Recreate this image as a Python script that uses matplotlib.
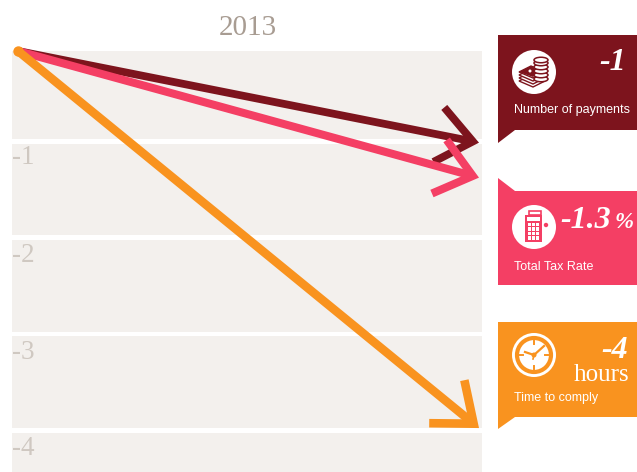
import matplotlib
matplotlib.use("Agg")
import matplotlib.pyplot as plt
from matplotlib.patches import Polygon, Circle, Rectangle, Ellipse

# values
start = 0.0
series_names = ["Number of payments", "Total Tax Rate", "Time to comply"]
series_ends = [-0.97, -1.34, -3.99]
series_colors = ["#7d141d", "#f43f64", "#f9931f"]
series_widths = [5.6, 5.8, 6.2]
big_labels = ["-1", "-1.3", "-4"]
tick_vals = [-0.98, -2.01, -3.04, -4.05]
tick_labels = ["-1", "-2", "-3", "-4"]
band_tops = [0.0, -0.98, -2.0, -3.02, -4.04]
band_bottoms = [-0.93, -1.95, -2.97, -3.99, -4.6]

W, H = 637, 472
fig = plt.figure(figsize=(W / 100, H / 100), dpi=100)

# main axes: value scale, 0 at pixel y 51, 94.5 px per unit
ax = fig.add_axes([0, 0, 1, 1])
ax.set_xlim(-18 / 461, (W - 18) / 461)
ax.set_ylim(-(H - 51) / 94.5, 51 / 94.5)
ax.axis("off")

x0 = -6 / 461
x1 = 464 / 461
for t, b in zip(band_tops, band_bottoms):
    ax.fill_between([x0, x1], [b, b], [t, t], color="#f3f0ed", lw=0, zorder=1)

for v, lab in zip(tick_vals, tick_labels):
    ax.text(x0, v - 0.02, lab, family="Liberation Serif", fontsize=19.5, color="#cfc8c1",
            va="top", ha="left", zorder=2)

ax.text(0.498, 0.24, "2013", family="Liberation Serif", fontsize=21, color="#a89c92",
        ha="center", va="center")

order = [0, 1, 2]
for i in order:
    ax.annotate("", xy=(1, series_ends[i]), xytext=(0, start), zorder=4,
                arrowprops=dict(arrowstyle="->,head_length=2.5,head_width=2.0", mutation_scale=10,
                                color=series_colors[i], lw=series_widths[i], shrinkA=0, shrinkB=0,
                                capstyle="butt", joinstyle="miter"))
ax.plot([0], [start], "o", color=series_colors[2], ms=7.5, zorder=5, mew=0)

# overlay in pixels for the callout boxes and icons
px = fig.add_axes([0, 0, 1, 1])
px.set_xlim(0, W)
px.set_ylim(H, 0)
px.axis("off")
px.patch.set_alpha(0)

px.add_patch(Polygon([(498, 35), (637, 35), (637, 130), (515, 130), (498, 143)], fc=series_colors[0], lw=0))
px.add_patch(Polygon([(498, 178), (515, 191), (637, 191), (637, 285), (498, 285)], fc=series_colors[1], lw=0))
px.add_patch(Polygon([(498, 322), (637, 322), (637, 417), (515, 417), (498, 429)], fc=series_colors[2], lw=0))

for y, c in zip([72, 227, 355], series_colors):
    px.add_patch(Circle((534, y), 22, fc="white", lw=0))

# coins icon
c = series_colors[0]
for y in [82, 79, 76, 73]:
    px.add_patch(Polygon([(519, y - 1), (531, y - 7), (545, y - 1), (533, y + 5)], fc="white", ec=c, lw=1))
px.add_patch(Polygon([(519, 72), (531, 66), (541, 72), (533, 77)], fc=c, lw=0))
px.add_patch(Circle((530, 71), 1.5, fc="white", lw=0))
for y in [79, 75, 71, 67, 63, 60]:
    px.add_patch(Ellipse((541, y), 14, 5.5, fc="white", ec=c, lw=1.1))

# calculator icon
c = series_colors[1]
px.add_patch(Rectangle((525, 215), 17, 27, fc=c, lw=0))
px.add_patch(Rectangle((529, 211), 12, 4, fc="none", ec=c, lw=1.2))
px.add_patch(Rectangle((527, 217), 13, 4, fc="white", lw=0))
for i in range(4):
    for j in range(3):
        px.add_patch(Rectangle((527.5 + j * 4.2, 223 + i * 4.4), 3.2, 3.4, fc="white", lw=0))
px.add_patch(Circle((546, 225), 2.2, fc=c, lw=0))

# clock icon
c = series_colors[2]
px.add_patch(Circle((534, 355), 17, fc="none", ec=c, lw=3))
for dx, dy in [(0, -14), (0, 14), (-14, 0), (14, 0)]:
    px.plot([534 + dx * 0.8, 534 + dx], [355 + dy * 0.8, 355 + dy], color=c, lw=1.4)
px.plot([534, 544], [355, 346], color=c, lw=1.6)
px.plot([534, 525], [355, 352], color=c, lw=1.6)
px.plot([534, 533], [355, 359], color=c, lw=1.2)
px.add_patch(Circle((534, 355), 1.8, fc="white", ec=c, lw=1))

serif = "Liberation Serif"
px.text(626, 63, big_labels[0], family=serif, style="italic", weight="bold", fontsize=23, color="white", ha="right", va="center")
px.text(611, 221, big_labels[1], family=serif, style="italic", weight="bold", fontsize=23, color="white", ha="right", va="center")
px.text(634, 223, "%", family=serif, style="italic", weight="bold", fontsize=16.5, color="white", ha="right", va="center")
px.text(628, 351, big_labels[2], family=serif, style="italic", weight="bold", fontsize=23, color="white", ha="right", va="center")
px.text(629, 375, "hours", family=serif, fontsize=18, color="white", ha="right", va="center")

for y, lab in zip([110, 267, 398], series_names):
    px.text(514, y, lab, family="Liberation Sans", fontsize=9, color="white", ha="left", va="center")

fig.savefig("out.png", dpi=100)
